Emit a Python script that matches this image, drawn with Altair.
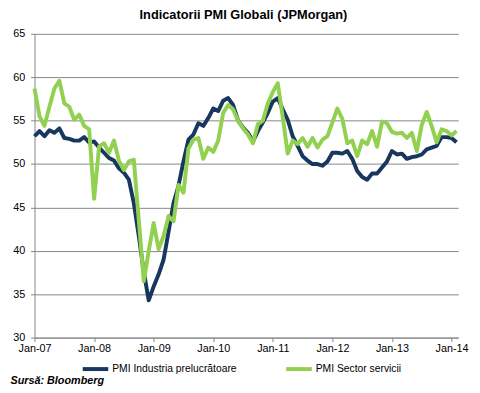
import json
import altair as alt
import pandas as pd

# Monthly series, Jan-07 .. Feb-14 (86 months)
year_labels = ["Jan-07", "Jan-08", "Jan-09", "Jan-10", "Jan-11", "Jan-12", "Jan-13", "Jan-14"]

series_names = ["PMI Industria prelucrătoare", "PMI Sector servicii"]

manufacturing = [
    53.2, 53.8, 53.2, 53.9, 53.6, 54.1, 53.0, 52.9, 52.7, 52.7, 53.1, 52.5,  # 2007
    52.6, 51.9, 51.3, 50.7, 50.4, 49.5, 49.0, 48.2, 45.5, 41.7, 37.6, 34.3,  # 2008
    35.9, 37.3, 39.0, 42.2, 45.5, 47.5, 50.3, 52.8, 53.4, 54.7, 54.4, 55.3,  # 2009
    56.4, 56.1, 57.3, 57.6, 56.8, 55.0, 54.2, 53.6, 52.6, 53.8, 54.8, 55.9,  # 2010
    57.2, 57.6, 56.3, 55.1, 53.2, 52.1, 50.9, 50.4, 50.0, 50.0, 49.8, 50.3,  # 2011
    51.3, 51.3, 51.2, 51.5, 50.6, 49.2, 48.5, 48.2, 48.9, 48.9, 49.6, 50.3,  # 2012
    51.5, 51.1, 51.2, 50.6, 50.8, 50.9, 51.1, 51.7, 51.9, 52.1, 53.1, 53.1,  # 2013
    53.0, 52.5,                                                              # 2014
]

services = [
    58.7, 55.5, 54.4, 56.6, 58.7, 59.6, 57.0, 56.6, 55.1, 55.7, 54.4, 54.0,  # 2007
    46.0, 52.0, 52.4, 51.3, 52.7, 50.4, 49.3, 50.3, 50.5, 43.5, 36.5, 40.0,  # 2008
    43.2, 40.2, 41.7, 44.0, 43.4, 47.6, 46.7, 51.8, 52.8, 53.0, 50.6, 51.9,  # 2009
    51.4, 52.7, 55.9, 56.8, 56.3, 55.0, 54.1, 53.4, 52.4, 54.6, 55.0, 57.0,  # 2010
    58.3, 59.3, 55.4, 51.2, 52.7, 52.3, 53.0, 52.0, 53.0, 51.9, 52.8, 53.2,  # 2011
    54.8, 56.4, 55.2, 52.4, 52.7, 50.9, 52.7, 52.3, 53.8, 52.0, 54.9, 54.7,  # 2012
    53.7, 53.5, 53.6, 53.0, 53.6, 51.5, 54.5, 56.0, 54.4, 52.5, 54.0, 53.8,  # 2013
    53.3, 53.8,                                                              # 2014
]

months = list(range(len(manufacturing)))

df = pd.DataFrame({
    "m": months * 2,
    "value": manufacturing + services,
    "series": [series_names[0]] * len(manufacturing) + [series_names[1]] * len(services),
    "ord": [0] * len(manufacturing) + [1] * len(services),
})

FONT = "Liberation Sans"
GRID = "#868686"

label_expr = json.dumps(year_labels) + "[round(datum.value / 12)]"

chart = alt.Chart(df).mark_line(strokeWidth=4, strokeJoin="round").encode(
    x=alt.X(
        "m:Q",
        scale=alt.Scale(domain=[0, 85.35], nice=False, zero=False),
        axis=alt.Axis(
            values=[0, 12, 24, 36, 48, 60, 72, 84],
            labelExpr=label_expr,
            labelFlush=False,
            grid=False,
            domainColor=GRID,
            tickColor=GRID,
            tickSize=4,
            labelPadding=1,
            labelFont=FONT,
            labelFontSize=11,
            labelColor="#000000",
            title="Sursă: Bloomberg",
            titleFont=FONT,
            titleFontSize=11,
            titleFontWeight="bold",
            titleFontStyle="italic",
            titleColor="#000000",
            titleAlign="left",
            titleAnchor="start",
            titleBaseline="alphabetic",
            titleX=-25,
            titleY=47,
        ),
    ),
    y=alt.Y(
        "value:Q",
        scale=alt.Scale(domain=[30, 65], nice=False, zero=False),
        axis=alt.Axis(
            values=[30, 35, 40, 45, 50, 55, 60, 65],
            grid=True,
            gridColor=GRID,
            gridWidth=1,
            domainColor=GRID,
            tickColor=GRID,
            tickSize=4,
            labelPadding=6,
            labelFont=FONT,
            labelFontSize=11,
            labelColor="#000000",
            title=None,
        ),
    ),
    color=alt.Color(
        "series:N",
        scale=alt.Scale(domain=series_names, range=["#17375E", "#92D050"]),
        legend=alt.Legend(
            orient="none",
            legendX=47,
            legendY=326,
            direction="horizontal",
            title=None,
            symbolType="stroke",
            symbolStrokeWidth=4,
            symbolSize=676,
            labelFont=FONT,
            labelFontSize=10.5,
            labelColor="#000000",
            labelOffset=2,
            columnPadding=42,
            padding=0,
        ),
    ),
    order=alt.Order("ord:Q"),
).properties(
    width=431,
    height=309,
    title=alt.TitleParams(
        "Indicatorii PMI Globali (JPMorgan)",
        font=FONT,
        fontSize=13,
        fontWeight="bold",
        color="#000000",
        anchor="middle",
        offset=6,
        dx=-3,
    ),
    padding={"left": 27, "top": 23, "right": 14, "bottom": 50},
    autosize=alt.AutoSizeParams(type="none"),
).configure_view(strokeWidth=0)

chart.save("out.html", embed_options={"renderer": "svg", "actions": False})
